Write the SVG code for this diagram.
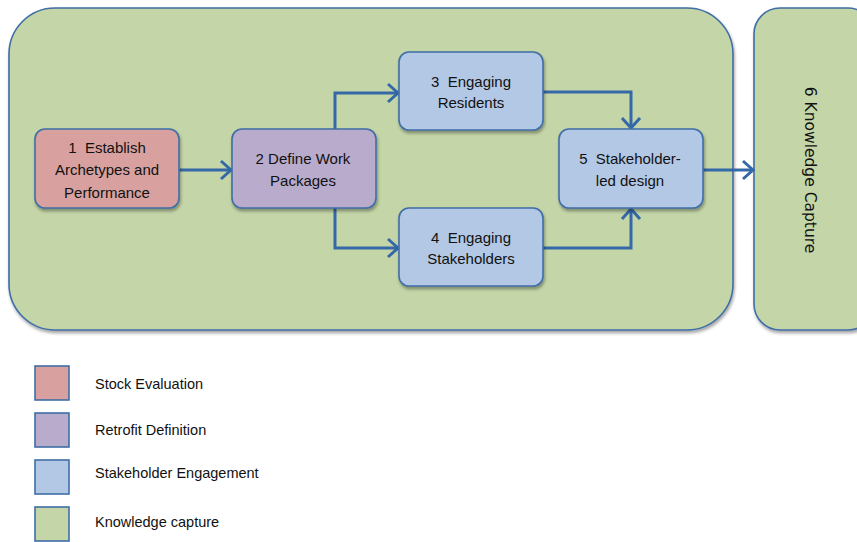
<svg xmlns="http://www.w3.org/2000/svg" width="857" height="542" viewBox="0 0 857 542">
<style>
.box{stroke:#3f6ea6;stroke-width:1.6;filter:url(#sh)}
.red{fill:#d8a19f}
.pur{fill:#b8abcb}
.blu{fill:#b3c8e4}
.grn{fill:#c4d5a7}
.t{font-family:"Liberation Sans",Arial,sans-serif;font-size:15px;fill:#111;text-anchor:middle;white-space:pre}
.lg{font-family:"Liberation Sans",Arial,sans-serif;font-size:14.5px;fill:#111}
.c{fill:none;stroke:#3468a8;stroke-width:3;marker-end:url(#ah)}
.sq{stroke:#3f6ea6;stroke-width:1.6}
</style>
<defs>
<filter id="sh" x="-10%" y="-10%" width="125%" height="130%">
<feDropShadow dx="1" dy="2.5" stdDeviation="1.8" flood-color="#000" flood-opacity="0.35"/>
</filter>
<marker id="ah" markerUnits="userSpaceOnUse" markerWidth="16" markerHeight="22" viewBox="0 0 16 22" refX="12" refY="11" orient="auto">
<path d="M2,2 L12,11 L2,20" fill="none" stroke="#3468a8" stroke-width="3" stroke-linejoin="miter"/>
</marker>
</defs>
<rect width="857" height="542" fill="#fff"/>
<g id="container">
<rect class="box grn" x="9" y="8" width="724" height="322" rx="46"/>
</g>
<g id="node6">
<rect class="box grn" x="754" y="8" width="120" height="322" rx="26"/>
<text transform="translate(805,170) rotate(90)" font-family="DejaVu Sans,Verdana,sans-serif" font-size="15.5" fill="#111" text-anchor="middle">6 Knowledge Capture</text>
</g>
<g id="connectors">
<path class="c" d="M179,170 H231"/>
<path class="c" d="M335,129 V93 H398"/>
<path class="c" d="M335,208 V248 H398"/>
<path class="c" d="M543,92 H631 V128"/>
<path class="c" d="M543,248 H631 V209"/>
<path class="c" d="M703,170 H753"/>
</g>
<g id="node1">
<rect class="box red" x="35" y="129" width="144" height="79" rx="10"/>
<text class="t" x="107" y="153" xml:space="preserve">1  Establish</text>
<text class="t" x="107" y="175">Archetypes and</text>
<text class="t" x="107" y="198">Performance</text>
</g>
<g id="node2">
<rect class="box pur" x="232" y="129" width="144" height="79" rx="10"/>
<text class="t" x="303" y="164">2 Define Work</text>
<text class="t" x="303" y="186">Packages</text>
</g>
<g id="node3">
<rect class="box blu" x="399" y="52" width="144" height="78" rx="10"/>
<text class="t" x="471" y="87" xml:space="preserve">3  Engaging</text>
<text class="t" x="471" y="108">Residents</text>
</g>
<g id="node4">
<rect class="box blu" x="399" y="208" width="144" height="78" rx="10"/>
<text class="t" x="471" y="243" xml:space="preserve">4  Engaging</text>
<text class="t" x="471" y="264">Stakeholders</text>
</g>
<g id="node5">
<rect class="box blu" x="559" y="129" width="144" height="79" rx="10"/>
<text class="t" x="630" y="164" xml:space="preserve">5  Stakeholder-</text>
<text class="t" x="630" y="186">led design</text>
</g>
<g id="legend">
<rect class="sq red" x="35" y="366" width="34" height="34"/>
<text class="lg" x="95" y="389">Stock Evaluation</text>
<rect class="sq pur" x="35" y="413" width="34" height="34"/>
<text class="lg" x="95" y="435">Retrofit Definition</text>
<rect class="sq blu" x="35" y="460" width="34" height="34"/>
<text class="lg" x="95" y="478">Stakeholder Engagement</text>
<rect class="sq grn" x="35" y="507" width="34" height="34"/>
<text class="lg" x="95" y="527">Knowledge capture</text>
</g>
</svg>
